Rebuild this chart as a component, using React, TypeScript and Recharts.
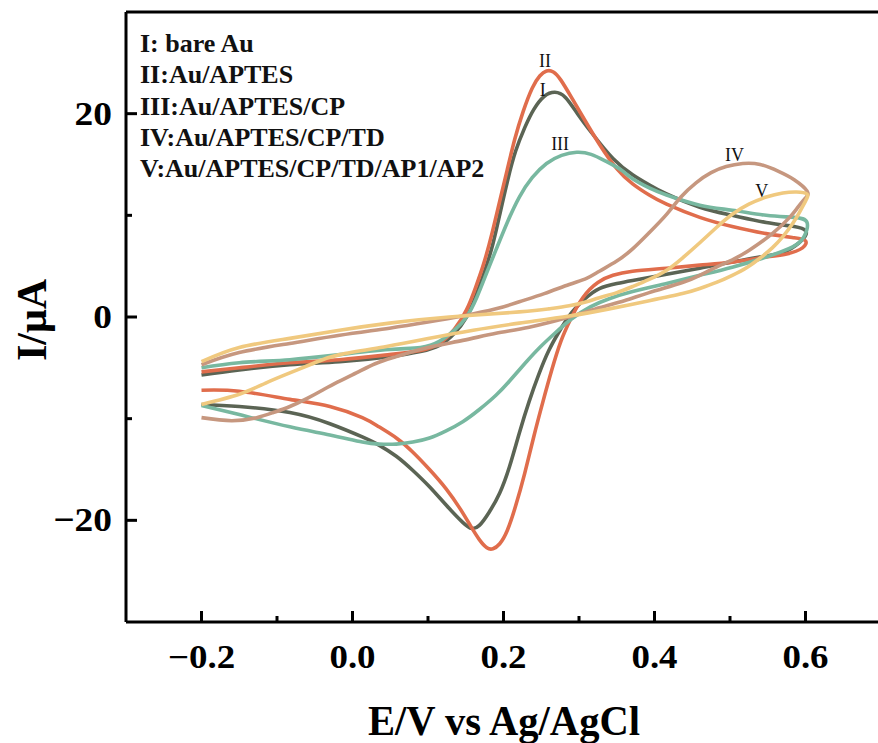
import React from 'react';
import { LineChart, Line, XAxis, YAxis, ReferenceLine, ReferenceDot } from 'recharts';

// ---- data (E in V vs Ag/AgCl, I in µA) ----
const seriesNames = [
  'I: bare Au',
  'II:Au/APTES',
  'III:Au/APTES/CP',
  'IV:Au/APTES/CP/TD',
  'V:Au/APTES/CP/TD/AP1/AP2',
];
const curveTags = ['I', 'II', 'III', 'IV', 'V'];
const colors = ['#5b6454', '#e06d4c', '#78b8a0', '#c6977f', '#f0c97f'];

const cvBareAu: [number, number][] = [
  [-0.2, -5.7], [-0.15, -5.2], [-0.083, -4.7], [-0.017, -4.4], [0.049, -3.9], [0.09, -3.4], [0.115, -2.8],
  [0.135, -1.6], [0.151, 0.0], [0.163, 2.0], [0.175, 4.5], [0.186, 7.2], [0.196, 10.4], [0.206, 13.6],
  [0.216, 16.3], [0.228, 18.6], [0.24, 20.4], [0.254, 21.7], [0.268, 22.1], [0.282, 21.6], [0.298, 20.0],
  [0.318, 18.0], [0.345, 15.6], [0.371, 14.0], [0.393, 13.0], [0.416, 12.1], [0.46, 10.8], [0.503, 10.0],
  [0.548, 9.3], [0.585, 8.9], [0.6, 8.5],
  [0.597, 7.7], [0.575, 6.5], [0.548, 6.0], [0.503, 5.4], [0.46, 4.8], [0.416, 4.2], [0.371, 3.6],
  [0.35, 3.3], [0.327, 2.8], [0.308, 1.8], [0.29, 0.4], [0.274, -1.4], [0.26, -3.3], [0.247, -5.6],
  [0.234, -8.3], [0.221, -11.4], [0.208, -14.7], [0.195, -17.3], [0.181, -19.2], [0.168, -20.5],
  [0.158, -20.8], [0.146, -20.2], [0.124, -18.5], [0.102, -16.7], [0.08, -15.1], [0.058, -13.7],
  [0.035, -12.6], [0.013, -11.8], [-0.03, -10.5], [-0.083, -9.4], [-0.15, -8.8], [-0.2, -8.6],
];

const cvAPTES: [number, number][] = [
  [-0.2, -5.4], [-0.15, -5.0], [-0.083, -4.5], [-0.017, -4.2], [0.049, -3.7], [0.09, -3.3], [0.115, -2.6],
  [0.135, -1.2], [0.151, 0.7], [0.163, 2.9], [0.174, 5.3], [0.185, 8.3], [0.195, 11.4], [0.205, 14.5],
  [0.215, 17.5], [0.226, 20.2], [0.238, 22.5], [0.248, 23.7], [0.257, 24.2], [0.266, 24.1], [0.276, 23.3],
  [0.29, 21.6], [0.305, 19.7], [0.327, 17.0], [0.35, 14.6], [0.371, 13.1], [0.393, 12.0], [0.416, 11.1],
  [0.46, 9.8], [0.503, 8.9], [0.548, 8.2], [0.585, 7.8], [0.6, 7.5],
  [0.596, 6.8], [0.575, 6.2], [0.548, 5.9], [0.503, 5.4], [0.46, 5.1], [0.416, 4.8], [0.371, 4.5],
  [0.345, 4.1], [0.325, 3.4], [0.305, 1.9], [0.289, -0.2], [0.276, -2.4], [0.264, -5.2], [0.252, -8.4],
  [0.24, -11.8], [0.228, -15.4], [0.216, -18.6], [0.205, -21.0], [0.195, -22.3], [0.186, -22.8],
  [0.178, -22.7], [0.168, -21.9], [0.156, -20.5], [0.142, -18.8], [0.124, -16.9], [0.102, -15.0],
  [0.08, -13.3], [0.058, -11.9], [0.035, -10.8], [0.013, -9.9], [-0.03, -8.8], [-0.083, -8.1],
  [-0.15, -7.3], [-0.2, -7.2],
];

const cvCP: [number, number][] = [
  [-0.2, -5.0], [-0.15, -4.5], [-0.083, -4.2], [-0.017, -3.7], [0.049, -3.2], [0.09, -3.0], [0.115, -2.4],
  [0.135, -1.3], [0.151, 0.0], [0.165, 2.0], [0.178, 4.4], [0.19, 6.6], [0.205, 9.3], [0.221, 11.8],
  [0.238, 13.7], [0.257, 15.1], [0.277, 15.9], [0.297, 16.2], [0.316, 16.0], [0.336, 15.3], [0.355, 14.5],
  [0.371, 13.6], [0.393, 12.7], [0.416, 12.0], [0.46, 11.0], [0.503, 10.5], [0.548, 10.0], [0.585, 9.8],
  [0.602, 9.3],
  [0.598, 7.9], [0.583, 6.9], [0.548, 5.9], [0.503, 4.9], [0.46, 4.1], [0.416, 3.3], [0.371, 2.5],
  [0.34, 1.8], [0.315, 1.0], [0.29, -0.2], [0.268, -1.6], [0.248, -3.0], [0.228, -4.6], [0.208, -6.3],
  [0.19, -7.7], [0.168, -9.1], [0.146, -10.3], [0.124, -11.2], [0.102, -11.9], [0.08, -12.3], [0.058, -12.5],
  [0.035, -12.5], [0.013, -12.3], [-0.03, -11.6], [-0.083, -10.8], [-0.15, -9.6], [-0.2, -8.7],
];

const cvTD: [number, number][] = [
  [-0.2, -4.7], [-0.15, -3.5], [-0.083, -2.6], [-0.017, -1.8], [0.049, -1.1], [0.1, -0.5], [0.146, 0.1],
  [0.19, 0.8], [0.221, 1.5], [0.254, 2.3], [0.287, 3.2], [0.31, 3.8], [0.327, 4.5], [0.35, 5.5],
  [0.371, 6.7], [0.393, 8.3], [0.416, 10.1], [0.435, 11.8], [0.455, 13.2], [0.475, 14.2], [0.495, 14.8],
  [0.517, 15.1], [0.54, 15.0], [0.565, 14.3], [0.585, 13.5], [0.602, 12.4],
  [0.6, 11.7], [0.59, 10.8], [0.579, 9.8], [0.556, 8.2], [0.526, 6.6], [0.505, 5.7], [0.482, 4.9],
  [0.46, 4.1], [0.437, 3.4], [0.393, 2.4], [0.36, 1.6], [0.327, 0.9], [0.287, 0.0], [0.234, -1.0],
  [0.19, -1.6], [0.146, -2.3], [0.1, -3.0], [0.058, -3.9], [0.03, -4.6], [0.005, -5.5], [-0.02, -6.4],
  [-0.04, -7.2], [-0.06, -8.0], [-0.083, -8.8], [-0.105, -9.4], [-0.127, -9.9], [-0.16, -10.2], [-0.2, -9.9],
];

const cvAP: [number, number][] = [
  [-0.2, -4.4], [-0.15, -3.0], [-0.083, -2.1], [-0.017, -1.3], [0.049, -0.6], [0.128, 0.0], [0.221, 0.5],
  [0.26, 0.8], [0.287, 1.1], [0.31, 1.5], [0.327, 1.9], [0.35, 2.4], [0.371, 3.0], [0.393, 3.7],
  [0.416, 4.6], [0.437, 5.8], [0.46, 7.3], [0.482, 8.8], [0.503, 10.1], [0.525, 11.1], [0.548, 11.8],
  [0.57, 12.2], [0.588, 12.3], [0.602, 12.1],
  [0.6, 11.4], [0.592, 10.3], [0.583, 9.2], [0.57, 7.9], [0.556, 6.8], [0.54, 5.8], [0.523, 4.9],
  [0.503, 4.1], [0.482, 3.4], [0.46, 2.8], [0.437, 2.3], [0.393, 1.6], [0.34, 0.8], [0.287, 0.1],
  [0.221, -0.6], [0.16, -1.3], [0.102, -2.1], [0.045, -2.9], [-0.017, -3.7], [-0.05, -4.5], [-0.083, -5.5],
  [-0.115, -6.5], [-0.15, -7.6], [-0.2, -8.6],
];

const curves = [cvBareAu, cvAPTES, cvCP, cvTD, cvAP];

// where the roman-numeral tags sit (data coords)
const tagPositions: [number, number][] = [
  [0.252, 22.4], [0.255, 25.2], [0.275, 17.1], [0.506, 16.0], [0.542, 12.4],
];

const xMajorTicks = [-0.2, 0, 0.2, 0.4, 0.6];
const xMinorTicks = [-0.1, 0.1, 0.3, 0.5];
const yMajorTicks = [-20, 0, 20];
const yMinorTicks = [-10, 10];

const xTitle = 'E/V vs Ag/AgCl';
const yTitle = 'I/\u03bcA';

const FONT = "'Liberation Serif', 'Times New Roman', serif";

const isIn = (v: number, arr: number[]) => arr.some((a) => Math.abs(a - v) < 1e-6);
const fmtX = (v: number) => (v < -1e-9 ? '\u2212' : '') + Math.abs(v).toFixed(1);
const fmtY = (v: number) => (v < 0 ? '\u2212' : '') + Math.abs(v).toFixed(0);

const XTick = (props: any) => {
  const { x, y, payload } = props;
  const v = payload.value as number;
  const major = isIn(v, xMajorTicks);
  return (
    <g>
      <line x1={x} y1={y} x2={x} y2={y - (major ? 11 : 6)} stroke="#000" strokeWidth={3} />
      {major && (
        <text
          x={0}
          y={0}
          transform={`translate(${x}, ${y + 46}) scale(1.12, 1)`}
          textAnchor="middle"
          fontFamily={FONT}
          fontWeight="bold"
          fontSize={33}
          fill="#000"
        >
          {fmtX(v)}
        </text>
      )}
    </g>
  );
};

const YTick = (props: any) => {
  const { x, y, payload } = props;
  const v = payload.value as number;
  const major = isIn(v, yMajorTicks);
  return (
    <g>
      <line x1={x} y1={y} x2={x + (major ? 11 : 6)} y2={y} stroke="#000" strokeWidth={3} />
      {major && (
        <text
          x={0}
          y={0}
          transform={`translate(${x - 14}, ${y + 11}) scale(1.1, 1)`}
          textAnchor="end"
          fontFamily={FONT}
          fontWeight="bold"
          fontSize={34}
          fill="#000"
        >
          {fmtY(v)}
        </text>
      )}
    </g>
  );
};

export default function App() {
  return (
    <div style={{ position: 'absolute', left: 0, top: 0, width: 878, height: 743, overflow: 'hidden', background: '#fff' }}>
      <LineChart width={960} height={743} margin={{ top: 12, right: 79, bottom: 0, left: 0 }}>
        <XAxis
          dataKey="x"
          type="number"
          domain={[-0.3, 0.7]}
          ticks={[...xMajorTicks, ...xMinorTicks].sort((a, b) => a - b)}
          interval={0}
          allowDataOverflow
          height={121}
          tickSize={0}
          tickMargin={0}
          tickLine={false}
          axisLine={{ stroke: '#000', strokeWidth: 3 }}
          tick={<XTick />}
        />
        <YAxis
          type="number"
          domain={[-30, 30]}
          ticks={[...yMajorTicks, ...yMinorTicks].sort((a, b) => a - b)}
          interval={0}
          allowDataOverflow
          width={126}
          tickSize={0}
          tickMargin={0}
          tickLine={false}
          axisLine={{ stroke: '#000', strokeWidth: 3 }}
          tick={<YTick />}
        />
        <ReferenceLine y={30} stroke="#000" strokeWidth={3} ifOverflow="visible" />
        {curves.map((c, i) => (
          <Line
            key={seriesNames[i]}
            name={seriesNames[i]}
            data={c.map(([x, y]) => ({ x, y }))}
            dataKey="y"
            type="natural"
            stroke={colors[i]}
            strokeWidth={3.6}
            dot={false}
            activeDot={false}
            isAnimationActive={false}
          />
        ))}
        {tagPositions.map(([x, y], i) => (
          <ReferenceDot
            key={'tag' + i}
            x={x}
            y={y}
            r={0}
            fill="none"
            stroke="none"
            ifOverflow="visible"
            label={{ value: curveTags[i], position: 'center', fill: '#111', fontSize: 18, fontFamily: FONT }}
          />
        ))}
      </LineChart>
      <svg width={878} height={743} style={{ position: 'absolute', left: 0, top: 0, pointerEvents: 'none' }}>
        {seriesNames.map((n, i) => (
          <text key={n} x={140} y={52 + i * 31.3} fontFamily={FONT} fontWeight="bold" fontSize={26} fill="#111">
            {n}
          </text>
        ))}
        <text
          x={504}
          y={735}
          textAnchor="middle"
          fontFamily={FONT}
          fontWeight="bold"
          fontSize={43}
          textLength={272}
          lengthAdjust="spacingAndGlyphs"
          fill="#000"
        >
          {xTitle}
        </text>
        <text
          x={0}
          y={0}
          transform="translate(46, 320) rotate(-90)"
          textAnchor="middle"
          fontFamily={FONT}
          fontWeight="bold"
          fontSize={42}
          fill="#000"
        >
          {yTitle}
        </text>
      </svg>
    </div>
  );
}
